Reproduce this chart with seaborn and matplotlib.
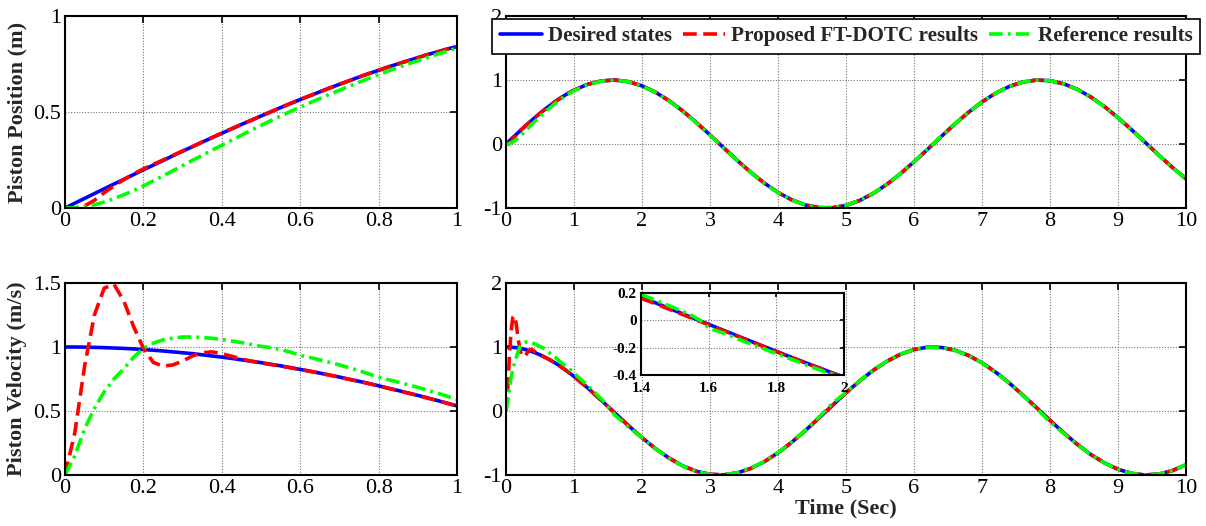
import pandas as pd
import seaborn as sns
import matplotlib.pyplot as plt

# trecho inicial (0 a 1 s), passo fino
t_ini = [0, 0.025, 0.05, 0.075, 0.1, 0.125, 0.15, 0.175, 0.2, 0.225, 0.25, 0.275, 0.3, 0.325,
         0.35, 0.375, 0.4, 0.425, 0.45, 0.475, 0.5, 0.525, 0.55, 0.575, 0.6, 0.625, 0.65, 0.675,
         0.7, 0.725, 0.75, 0.775, 0.8, 0.825, 0.85, 0.875, 0.9, 0.925, 0.95, 0.975, 1.0]

pos_des_ini = [0.0, 0.025, 0.050, 0.075, 0.100, 0.125, 0.149, 0.174, 0.199, 0.223, 0.247, 0.272,
               0.296, 0.319, 0.343, 0.366, 0.389, 0.412, 0.435, 0.457, 0.479, 0.501, 0.523, 0.544,
               0.565, 0.585, 0.605, 0.625, 0.644, 0.663, 0.682, 0.700, 0.717, 0.735, 0.751, 0.767,
               0.783, 0.799, 0.813, 0.828, 0.841]
pos_prop_ini = [0.0, 0.0, 0.010, 0.040, 0.080, 0.115, 0.148, 0.178, 0.204, 0.227, 0.250, 0.273,
                0.297, 0.320, 0.344, 0.367, 0.390, 0.413, 0.435, 0.457, 0.479, 0.501, 0.523, 0.544,
                0.565, 0.585, 0.605, 0.625, 0.644, 0.663, 0.682, 0.700, 0.717, 0.735, 0.751, 0.767,
                0.783, 0.799, 0.813, 0.828, 0.841]
pos_ref_ini = [0.0, 0.001, 0.006, 0.017, 0.031, 0.049, 0.069, 0.091, 0.115, 0.141, 0.167, 0.194,
               0.221, 0.248, 0.274, 0.301, 0.327, 0.353, 0.379, 0.405, 0.430, 0.455, 0.479, 0.503,
               0.525, 0.548, 0.570, 0.592, 0.613, 0.634, 0.655, 0.675, 0.695, 0.714, 0.732, 0.750,
               0.767, 0.784, 0.801, 0.817, 0.833]

vel_des_ini = [1.000, 1.000, 0.999, 0.997, 0.995, 0.992, 0.989, 0.985, 0.980, 0.975, 0.969, 0.962,
               0.955, 0.948, 0.939, 0.930, 0.921, 0.911, 0.900, 0.889, 0.878, 0.865, 0.853, 0.839,
               0.825, 0.811, 0.796, 0.781, 0.765, 0.748, 0.732, 0.715, 0.697, 0.678, 0.660, 0.641,
               0.622, 0.602, 0.582, 0.561, 0.540]
vel_prop_ini = [0.0, 0.33, 0.85, 1.25, 1.46, 1.49, 1.36, 1.16, 0.99, 0.88, 0.85, 0.86, 0.89, 0.93,
                0.955, 0.962, 0.948, 0.928, 0.907, 0.889, 0.875, 0.863, 0.851, 0.838, 0.824, 0.810,
                0.795, 0.780, 0.764, 0.747, 0.731, 0.714, 0.696, 0.677, 0.659, 0.640, 0.621, 0.601,
                0.581, 0.560, 0.539]
vel_ref_ini = [0.0, 0.15, 0.36, 0.52, 0.65, 0.75, 0.83, 0.92, 0.99, 1.03, 1.055, 1.07, 1.078, 1.078,
               1.074, 1.068, 1.058, 1.047, 1.035, 1.02, 1.005, 0.995, 0.98, 0.96, 0.935, 0.918,
               0.90, 0.88, 0.86, 0.838, 0.815, 0.79, 0.765, 0.745, 0.725, 0.705, 0.685, 0.662,
               0.64, 0.615, 0.59]

# resto da simulacao (1.2 a 10 s)
t_fim = [1.2, 1.4, 1.6, 1.8, 2.0, 2.2, 2.4, 2.6, 2.8, 3.0, 3.2, 3.4, 3.6, 3.8, 4.0, 4.2, 4.4, 4.6,
         4.8, 5.0, 5.2, 5.4, 5.6, 5.8, 6.0, 6.2, 6.4, 6.6, 6.8, 7.0, 7.2, 7.4, 7.6, 7.8, 8.0, 8.2,
         8.4, 8.6, 8.8, 9.0, 9.2, 9.4, 9.6, 9.8, 10.0]

pos_des_fim = [0.932, 0.985, 1.000, 0.974, 0.909, 0.808, 0.675, 0.516, 0.335, 0.141, -0.058, -0.256,
               -0.443, -0.612, -0.757, -0.872, -0.952, -0.994, -0.996, -0.959, -0.883, -0.773,
               -0.631, -0.465, -0.279, -0.083, 0.117, 0.312, 0.494, 0.657, 0.794, 0.899, 0.968,
               0.999, 0.989, 0.941, 0.855, 0.735, 0.585, 0.412, 0.223, 0.025, -0.174, -0.366, -0.544]
pos_prop_fim = [0.932, 0.985, 1.000, 0.974, 0.909, 0.808, 0.675, 0.516, 0.335, 0.141, -0.058, -0.256,
                -0.443, -0.612, -0.757, -0.872, -0.952, -0.994, -0.996, -0.959, -0.883, -0.773,
                -0.631, -0.465, -0.279, -0.083, 0.117, 0.312, 0.494, 0.657, 0.794, 0.899, 0.968,
                0.999, 0.989, 0.941, 0.855, 0.735, 0.585, 0.412, 0.223, 0.025, -0.174, -0.366, -0.544]
pos_ref_fim = [0.925, 0.982, 1.000, 0.972, 0.905, 0.803, 0.670, 0.511, 0.330, 0.136, -0.062, -0.260,
               -0.447, -0.616, -0.760, -0.874, -0.954, -0.995, -0.996, -0.958, -0.882, -0.771,
               -0.629, -0.462, -0.276, -0.080, 0.120, 0.315, 0.497, 0.659, 0.796, 0.900, 0.969,
               0.999, 0.988, 0.940, 0.853, 0.732, 0.582, 0.409, 0.220, 0.022, -0.177, -0.369, -0.547]

vel_des_fim = [0.362, 0.170, -0.029, -0.227, -0.416, -0.589, -0.737, -0.857, -0.942, -0.990, -0.998,
               -0.967, -0.897, -0.791, -0.654, -0.490, -0.307, -0.112, 0.087, 0.284, 0.469, 0.635,
               0.776, 0.886, 0.960, 0.997, 0.993, 0.951, 0.869, 0.754, 0.608, 0.438, 0.248, 0.054,
               -0.146, -0.340, -0.520, -0.680, -0.811, -0.911, -0.975, -1.000, -0.985, -0.931, -0.839]
vel_prop_fim = [0.360, 0.165, -0.033, -0.229, -0.418, -0.590, -0.738, -0.857, -0.942, -0.990, -0.998,
                -0.967, -0.897, -0.791, -0.654, -0.490, -0.307, -0.112, 0.087, 0.284, 0.469, 0.635,
                0.776, 0.886, 0.960, 0.997, 0.993, 0.951, 0.869, 0.754, 0.608, 0.438, 0.248, 0.054,
                -0.146, -0.340, -0.520, -0.680, -0.811, -0.911, -0.975, -1.000, -0.985, -0.931, -0.839]
vel_ref_fim = [0.400, 0.190, -0.060, -0.250, -0.415, -0.590, -0.740, -0.860, -0.945, -0.992, -0.998,
               -0.965, -0.894, -0.788, -0.650, -0.486, -0.303, -0.100, 0.120, 0.290, 0.472, 0.637,
               0.777, 0.887, 0.960, 0.997, 0.993, 0.950, 0.867, 0.752, 0.605, 0.435, 0.245, 0.045,
               -0.170, -0.348, -0.524, -0.682, -0.812, -0.912, -0.975, -1.000, -0.985, -0.930, -0.838]

# detalhe (zoom) da velocidade entre 1.4 e 2 s
t_zoom = [1.4, 1.45, 1.5, 1.55, 1.6, 1.65, 1.7, 1.75, 1.8, 1.85, 1.9, 1.95, 2.0]
vel_des_zoom = [0.170, 0.121, 0.071, 0.021, -0.029, -0.079, -0.129, -0.178, -0.227, -0.276, -0.323,
                -0.370, -0.416]
vel_prop_zoom = [0.162, 0.114, 0.065, 0.016, -0.033, -0.082, -0.131, -0.180, -0.229, -0.277, -0.325,
                 -0.372, -0.418]
t_zoom_ref = [1.4, 1.45, 1.5, 1.55, 1.575, 1.6, 1.625, 1.65, 1.7, 1.75, 1.8, 1.85, 1.9, 1.95, 2.0]
vel_ref_zoom = [0.190, 0.140, 0.090, 0.035, 0.0, -0.055, -0.078, -0.098, -0.150, -0.196, -0.243,
                -0.290, -0.337, -0.382, -0.418]

rotulos = ['Desired states', 'Proposed FT-DOTC results', 'Reference results']

sns.set_style('white')
plt.rcParams['font.family'] = ['Liberation Serif', 'DejaVu Serif']
plt.rcParams['axes.unicode_minus'] = False

estilo_azul = dict(color=(0, 0, 1), lw=2.6, linestyle='-')
estilo_verm = dict(color=(1, 0, 0), lw=2.6, linestyle=(0, (3.8, 1.8)))
estilo_verde = dict(color=(0, 1, 0), lw=2.6, linestyle=(0, (3.8, 1.4, 0.8, 1.4)))


def curvas(ax, t, yd, yp, yr, t_r=None):
    if t_r is None:
        t_r = t
    sns.lineplot(x=t, y=yd, ax=ax, label=rotulos[0], sort=False, estimator=None, **estilo_azul)
    sns.lineplot(x=t, y=yp, ax=ax, label=rotulos[1], sort=False, estimator=None, **estilo_verm)
    sns.lineplot(x=t_r, y=yr, ax=ax, label=rotulos[2], sort=False, estimator=None, **estilo_verde)
    ax.get_legend().remove()


def formata(ax, xlim, ylim, xt, yt, fs=16, bold=False):
    ax.set_xlim(xlim)
    ax.set_ylim(ylim)
    ax.set_xticks(xt)
    ax.set_yticks(yt)
    ax.set_xticklabels([f'{v:g}' for v in xt])
    ax.set_yticklabels([f'{v:g}' for v in yt])
    ax.grid(True, linestyle=(0, (1, 1.5)), color='#777777', lw=0.8)
    ax.tick_params(direction='in', top=True, right=True, length=5, width=1.2,
                   labelsize=fs, colors='black', pad=3)
    for lab in ax.get_xticklabels() + ax.get_yticklabels():
        lab.set_fontweight('bold' if bold else 'normal')
    for s in ax.spines.values():
        s.set_color('black')
        s.set_linewidth(1.5)
    ax.set_xlabel('')
    ax.set_ylabel('')


fig = plt.figure(figsize=(12.06, 5.26), dpi=100)
W, H = 1206, 526
ax1 = fig.add_axes([65 / W, 1 - 208 / H, 392 / W, 192 / H])
ax2 = fig.add_axes([506 / W, 1 - 208 / H, 680 / W, 192 / H])
ax3 = fig.add_axes([65 / W, 1 - 475 / H, 392 / W, 192 / H])
ax4 = fig.add_axes([506 / W, 1 - 475 / H, 680 / W, 192 / H])
ax5 = fig.add_axes([641 / W, 1 - 375 / H, 203 / W, 82 / H])

t_all = t_ini + t_fim

curvas(ax1, t_ini, pos_des_ini, pos_prop_ini, pos_ref_ini)
curvas(ax2, t_all, pos_des_ini + pos_des_fim, pos_prop_ini + pos_prop_fim, pos_ref_ini + pos_ref_fim)
curvas(ax3, t_ini, vel_des_ini, vel_prop_ini, vel_ref_ini)
curvas(ax4, t_all, vel_des_ini + vel_des_fim, vel_prop_ini + vel_prop_fim, vel_ref_ini + vel_ref_fim)
curvas(ax5, t_zoom, vel_des_zoom, vel_prop_zoom, vel_ref_zoom, t_r=t_zoom_ref)

formata(ax1, (0, 1), (0, 1), [0, 0.2, 0.4, 0.6, 0.8, 1], [0, 0.5, 1])
formata(ax2, (0, 10), (-1, 2), list(range(11)), [-1, 0, 1, 2])
formata(ax3, (0, 1), (0, 1.5), [0, 0.2, 0.4, 0.6, 0.8, 1], [0, 0.5, 1, 1.5])
formata(ax4, (0, 10), (-1, 2), list(range(11)), [-1, 0, 1, 2])
formata(ax5, (1.4, 2), (-0.4, 0.2), [1.4, 1.6, 1.8, 2], [-0.4, -0.2, 0, 0.2], fs=11, bold=True)
ax5.tick_params(axis='x', length=3, pad=5)
ax5.tick_params(axis='y', length=3, pad=3)
ax5.set_facecolor('white')

ax1.set_ylabel('Piston Position (m)', fontsize=16, fontweight='bold', labelpad=4)
ax3.set_ylabel('Piston Velocity (m/s)', fontsize=16, fontweight='bold', labelpad=4)
ax4.set_xlabel('Time (Sec)', fontsize=16, fontweight='bold', labelpad=0)

h, l = ax2.get_legend_handles_labels()
leg = ax2.legend(h, l, loc='upper center', bbox_to_anchor=(0.5, 0.985), ncol=3,
                 prop={'weight': 'bold', 'size': 15.2}, frameon=True, fancybox=False,
                 edgecolor='black', framealpha=1, handlelength=2.0, handletextpad=0.3,
                 columnspacing=0.5, borderpad=0.35, borderaxespad=0.0)
leg.get_frame().set_linewidth(1.2)

plt.savefig('out.png', dpi=100)
